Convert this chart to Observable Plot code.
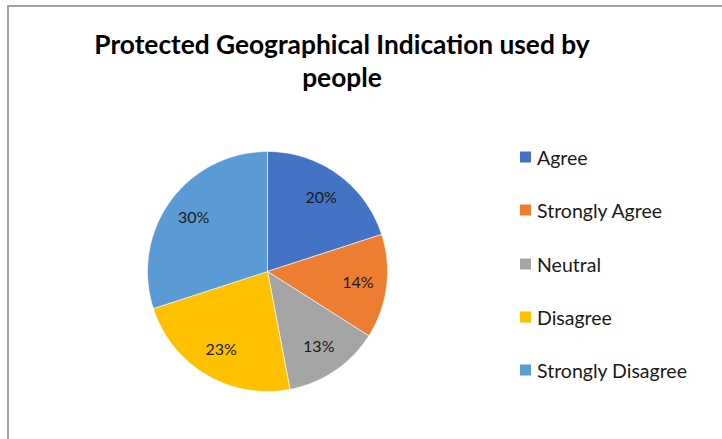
<!DOCTYPE html>
<html>
<head>
<meta charset="utf-8">
<script src="https://cdn.jsdelivr.net/npm/d3@7"></script>
<script src="https://cdn.jsdelivr.net/npm/@observablehq/plot@0.6"></script>
<style>
  html, body { margin: 0; padding: 0; background: #fff; }
  #chart { position: relative; width: 722px; height: 439px; overflow: hidden; font-family: Lato, "Open Sans", sans-serif; }
  #frame { position: absolute; left: 7px; top: 5px; width: 800px; height: 600px; border-left: 2px solid #a3a3a3; border-top: 2px solid #a3a3a3; box-sizing: border-box; }
  #title { position: absolute; left: 0; top: 28px; width: 684px; text-align: center; font-weight: bold; font-size: 26.3px; line-height: 33px; color: #000; }
  #legend { position: absolute; left: 520px; top: 0; }
  .item { position: absolute; left: 0; display: flex; align-items: center; white-space: nowrap; font-size: 19.5px; color: #1a1a1a; transform: translateY(-50%); }
  .sw { width: 11px; height: 11px; margin-right: 6px; flex: none; }
  #pie { position: absolute; left: 137px; top: 140.5px; }
</style>
</head>
<body>
<div id="chart">
  <div id="frame"></div>
  <div id="title">Protected Geographical Indication used by<br>people</div>
  <div id="legend"></div>
  <div id="pie"></div>
</div>
<script>
const categories = ["Agree", "Strongly Agree", "Neutral", "Disagree", "Strongly Disagree"];
const values = [20, 14, 13, 23, 30];
const labels = ["20%", "14%", "13%", "23%", "30%"];
const colors = ["#4472C4", "#ED7D31", "#A5A5A5", "#FFC000", "#5B9BD5"];

const data = categories.map((c, i) => ({cat: c, value: values[i], label: labels[i]}));
const arcs = d3.pie().sort(null).value(d => d.value)(data);

// polygon outlines of each slice (unit circle, angle clockwise from top)
const slicePts = [];
for (const a of arcs) {
  slicePts.push({cat: a.data.cat, x: 0, y: 0});
  const n = Math.max(2, Math.ceil((a.endAngle - a.startAngle) / (Math.PI / 180)));
  for (let k = 0; k <= n; k++) {
    const t = a.startAngle + (a.endAngle - a.startAngle) * k / n;
    slicePts.push({cat: a.data.cat, x: Math.sin(t), y: Math.cos(t)});
  }
  slicePts.push({cat: a.data.cat, x: 0, y: 0});
}
const labelR = 0.76;
const labelPts = arcs.map(a => {
  const m = (a.startAngle + a.endAngle) / 2;
  return {cat: a.data.cat, label: a.data.label, x: labelR * Math.sin(m), y: labelR * Math.cos(m)};
});

const pie = Plot.plot({
  width: 260,
  height: 260,
  margin: 10,
  x: {domain: [-1, 1], axis: null},
  y: {domain: [-1, 1], axis: null},
  color: {domain: categories, range: colors},
  style: {background: "transparent", fontFamily: "Lato, sans-serif"},
  marks: [
    Plot.line(slicePts, {x: "x", y: "y", z: "cat", fill: "cat", stroke: "#ffffff", strokeWidth: 1, strokeOpacity: 0.6, strokeLinejoin: "round"}),
    Plot.text(labelPts, {x: "x", y: "y", text: "label", fontSize: 16, fill: "#1a1a1a"})
  ]
});
document.getElementById("pie").appendChild(pie);

const legend = document.getElementById("legend");
categories.forEach((c, i) => {
  const it = document.createElement("div");
  it.className = "item";
  it.style.top = (157 + i * 53.25) + "px";
  const sw = document.createElement("span");
  sw.className = "sw";
  sw.style.background = colors[i];
  const tx = document.createElement("span");
  tx.textContent = c;
  it.appendChild(sw);
  it.appendChild(tx);
  legend.appendChild(it);
});
</script>
</body>
</html>
